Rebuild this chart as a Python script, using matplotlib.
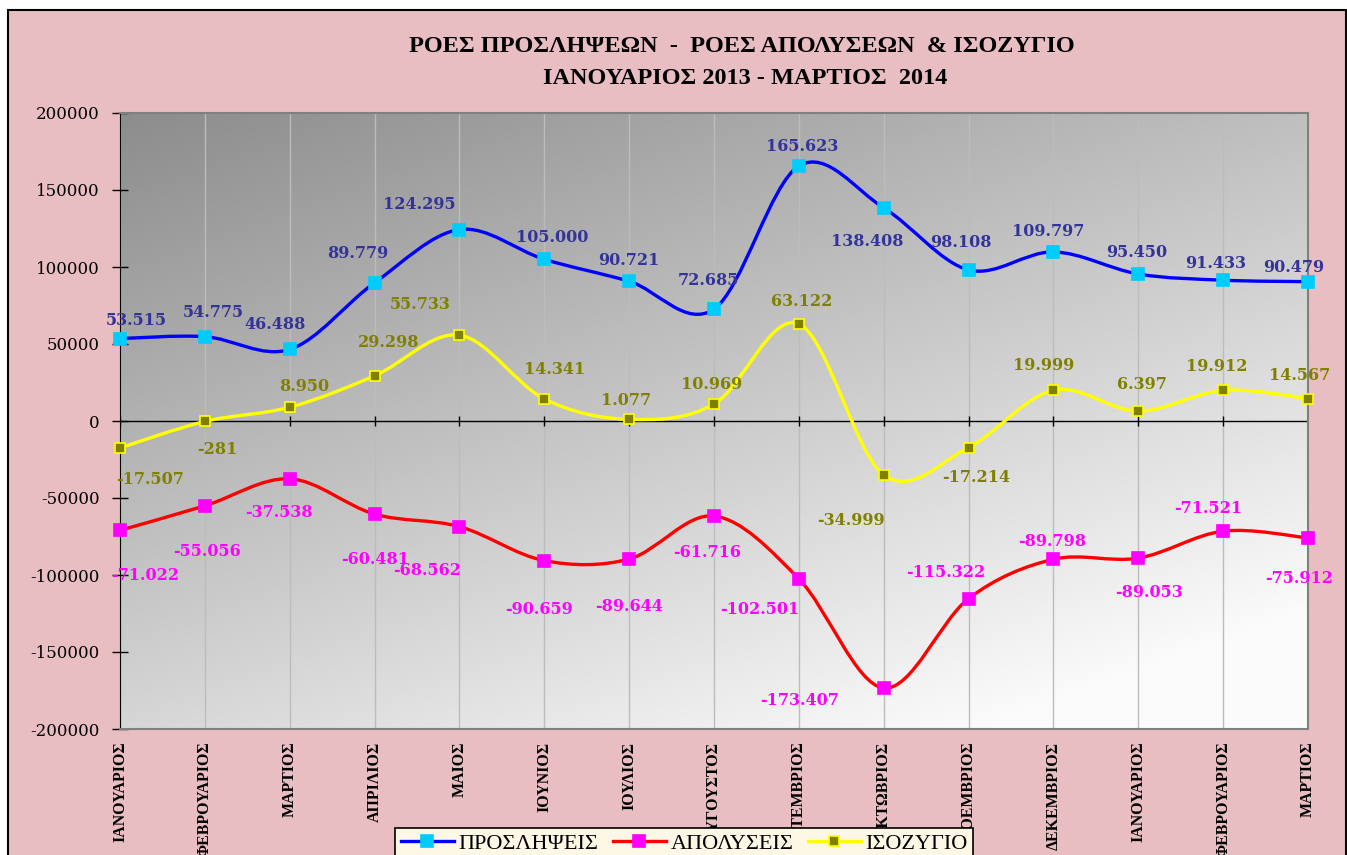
import numpy as np
import matplotlib
matplotlib.use("Agg")
import matplotlib.pyplot as plt
from matplotlib.path import Path
from matplotlib.patches import PathPatch, Rectangle
from matplotlib.lines import Line2D
from matplotlib.ticker import FuncFormatter

# data
months = ["ΙΑΝΟΥΑΡΙΟΣ", "ΦΕΒΡΟΥΑΡΙΟΣ", "ΜΑΡΤΙΟΣ", "ΑΠΡΙΛΙΟΣ", "ΜΑΙΟΣ", "ΙΟΥΝΙΟΣ",
          "ΙΟΥΛΙΟΣ", "ΑΥΓΟΥΣΤΟΣ", "ΣΕΠΤΕΜΒΡΙΟΣ", "ΟΚΤΩΒΡΙΟΣ", "ΝΟΕΜΒΡΙΟΣ",
          "ΔΕΚΕΜΒΡΙΟΣ", "ΙΑΝΟΥΑΡΙΟΣ", "ΦΕΒΡΟΥΑΡΙΟΣ", "ΜΑΡΤΙΟΣ"]
hires = [53515, 54775, 46488, 89779, 124295, 105000, 90721, 72685,
         165623, 138408, 98108, 109797, 95450, 91433, 90479]
layoffs = [-71022, -55056, -37538, -60481, -68562, -90659, -89644, -61716,
           -102501, -173407, -115322, -89798, -89053, -71521, -75912]
balance = [-17507, -281, 8950, 29298, 55733, 14341, 1077, 10969,
           63122, -34999, -17214, 19999, 6397, 19912, 14567]
names = ["ΠΡΟΣΛΗΨΕΙΣ", "ΑΠΟΛΥΣΕΙΣ", "ΙΣΟΖΥΓΙΟ"]

# label placement (pixels, dx right / dy up)
hire_off = [(16, 18), (8, 24), (-15, 25), (-17, 29), (-40, 25), (8, 22), (0, 21), (-6, 29),
            (3, 19), (-16, -34), (-8, 27), (-5, 20), (-2, 22), (-8, 17), (-14, 14)]
bal_off = [(30, -32), (12, -28), (14, 21), (14, 33), (-39, 31), (10, 29), (-3, 19), (-2, 20),
           (3, 22), (-33, -46), (8, -30), (-10, 25), (4, 27), (-6, 24), (-8, 23)]
lay_off = [(25, -45), (2, -46), (-11, -34), (1, -45), (-32, -44), (-5, -49), (0, -47), (-7, -36),
           (-39, -31), (-84, -12), (-23, 26), (-1, 18), (11, -34), (-15, 23), (-9, -41)]


def smooth_path(xs, ys):
    """Excel-like smoothed line: cubic bezier through every point."""
    n = len(xs)
    verts = [(xs[0], ys[0])]
    codes = [Path.MOVETO]
    for i in range(n - 1):
        a = max(i - 1, 0)
        b = min(i + 2, n - 1)
        c1 = (xs[i] + (xs[i + 1] - xs[a]) / 6, ys[i] + (ys[i + 1] - ys[a]) / 6)
        c2 = (xs[i + 1] - (xs[b] - xs[i]) / 6, ys[i + 1] - (ys[b] - ys[i]) / 6)
        verts += [c1, c2, (xs[i + 1], ys[i + 1])]
        codes += [Path.CURVE4] * 3
    return Path(verts, codes)


def fmt(v):
    return f"{v:,}".replace(",", ".")


W, H = 1347, 855
fig = plt.figure(figsize=(W / 100, H / 100), dpi=100, facecolor="white")

# pink card with black frame
card = Rectangle((8 / W, -0.05), (W - 9) / W, 1.05 - 10 / H, transform=fig.transFigure,
                 facecolor="#e8bec2", edgecolor="black", linewidth=1.5, zorder=-10)
fig.add_artist(card)

ax = fig.add_axes([120 / W, 1 - 729 / H, 1188 / W, 616 / H])
x = np.arange(len(months))
ax.set_xlim(0, len(months) - 1)
ax.set_ylim(-200000, 200000)

# gray gradient plot area
gx, gy = np.meshgrid(np.linspace(0, 1, 300), np.linspace(0, 1, 300))
g = np.clip(0.55 + 0.2 * gx + 0.29 * gy, 0, 0.985)
ax.imshow(np.dstack([g, g, g]), extent=(0, len(months) - 1, -200000, 200000),
          aspect="auto", origin="upper", zorder=0)

for xi in x:
    ax.axvline(xi, color="#bcbcbc", lw=1, zorder=1)
ax.axhline(0, color="black", lw=1, zorder=2)
ax.plot(x, np.zeros(len(x)), ls="none", marker="|", ms=7, mew=1, color="black", zorder=2)

series = [
    (hires, "#0000ff", "#00ccff", "#00ccff", 9, "#333399", hire_off),
    (layoffs, "#ff0000", "#ff00ff", "#ff00ff", 9, "#ff00ff", lay_off),
    (balance, "#ffff00", "#808000", "#ffff00", 7, "#808000", bal_off),
]
handles = []
for (vals, lc, mfc, mec, ms, tc, offs), name in zip(series, names):
    ax.add_patch(PathPatch(smooth_path(x, vals), facecolor="none", edgecolor=lc,
                           lw=2.4, zorder=3, capstyle="round"))
    ax.plot(x, vals, ls="none", marker="s", ms=ms, mfc=mfc, mec=mec, mew=1.2,
            zorder=4, clip_on=False)
    for xi, v, (dx, dy) in zip(x, vals, offs):
        ax.annotate(fmt(v), (xi, v), xytext=(dx, dy), textcoords="offset pixels",
                    ha="center", va="center", color=tc, fontsize=11.5,
                    fontweight="bold", family="DejaVu Serif", zorder=5,
                    annotation_clip=False)
    handles.append(Line2D([], [], color=lc, lw=2.4, marker="s", ms=ms, mfc=mfc,
                          mec=mec, mew=1.2, label=name))

ax.set_xticks(x)
ax.set_xticklabels(months, rotation=90, fontsize=11.4, fontweight="bold",
                   family="Liberation Serif", va="top")
ax.tick_params(axis="x", length=0, pad=9)
ax.set_yticks(np.arange(-200000, 200001, 50000))
ax.yaxis.set_major_formatter(FuncFormatter(lambda v, p: f"{v:.0f}"))
ax.tick_params(axis="y", direction="inout", length=11, width=1, pad=9,
               labelsize=12, labelfontfamily="DejaVu Serif")
for s in ["top", "right", "bottom"]:
    ax.spines[s].set_color("#808080")
    ax.spines[s].set_linewidth(1.5)
ax.spines["left"].set_color("black")

fig.text(742 / W, 1 - 47 / H, "ΡΟΕΣ ΠΡΟΣΛΗΨΕΩΝ  -  ΡΟΕΣ ΑΠΟΛΥΣΕΩΝ  & ΙΣΟΖΥΓΙΟ",
         ha="center", va="center", fontsize=17.5, fontweight="bold", family="Liberation Serif")
fig.text(745 / W, 1 - 78 / H, "ΙΑΝΟΥΑΡΙΟΣ 2013 - ΜΑΡΤΙΟΣ  2014",
         ha="center", va="center", fontsize=17.5, fontweight="bold", family="Liberation Serif")

leg = fig.legend(handles=handles, loc="upper left", bbox_to_anchor=(395 / W, 1 - 828 / H),
                 ncol=3, frameon=True, fancybox=False, edgecolor="black", facecolor="#fdf8e6",
                 framealpha=1, borderaxespad=0, borderpad=0.25, handlelength=2.4,
                 columnspacing=0.65, handletextpad=0.2,
                 prop={"family": "Liberation Serif", "size": 16})
leg.get_frame().set_linewidth(1.2)
leg.set_zorder(10)

fig.savefig("out.png", dpi=100, facecolor=fig.get_facecolor())
